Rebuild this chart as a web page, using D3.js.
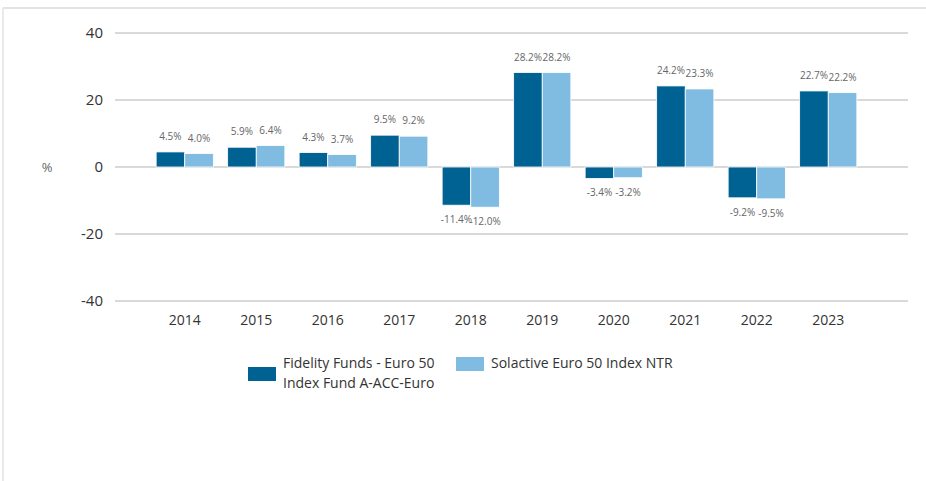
<!DOCTYPE html>
<html>
<head>
<meta charset="utf-8">
<script src="https://cdn.jsdelivr.net/npm/d3@7"></script>
<style>
  body { margin: 0; background: #fff; }
  svg { display: block; font-family: "Open Sans", sans-serif; }
</style>
</head>
<body>
<div id="chart"></div>
<script>
// data
var years = ["2014", "2015", "2016", "2017", "2018", "2019", "2020", "2021", "2022", "2023"];
var fundValues = [4.5, 5.9, 4.3, 9.5, -11.4, 28.2, -3.4, 24.2, -9.2, 22.7];
var indexValues = [4.0, 6.4, 3.7, 9.2, -12.0, 28.2, -3.2, 23.3, -9.5, 22.2];
var seriesNames = ["Fidelity Funds - Euro 50 Index Fund A-ACC-Euro", "Solactive Euro 50 Index NTR"];
var yTicks = [-40, -20, 0, 20, 40];

var colors = ["#006193", "#80bce2"];

var width = 926, height = 481;

var svg = d3.select("#chart")
  .append("svg")
  .attr("width", width)
  .attr("height", height);

// frame lines (top and left)
svg.append("line")
  .attr("x1", 3).attr("x2", width).attr("y1", 8).attr("y2", 8)
  .attr("stroke", "#e3e3e3").attr("stroke-width", 2);
svg.append("line")
  .attr("x1", 3).attr("x2", 3).attr("y1", 8).attr("y2", height)
  .attr("stroke", "#e3e3e3").attr("stroke-width", 1.5);

var x = d3.scaleBand()
  .domain(years)
  .range([149, 864])
  .paddingInner(0.2)
  .paddingOuter(0.1);

var y = d3.scaleLinear()
  .domain([-40, 40])
  .range([301, 33]);

var xSub = d3.scaleBand()
  .domain([0, 1])
  .range([0, x.bandwidth()]);

// grid lines
svg.append("g")
  .selectAll("line")
  .data(yTicks)
  .enter()
  .append("line")
  .attr("x1", 115).attr("x2", 908)
  .attr("y1", function(d) { return y(d); })
  .attr("y2", function(d) { return y(d); })
  .attr("stroke", "#d9d9d9")
  .attr("stroke-width", 2);

// y axis labels (plain hyphen for negatives, as in the original)
svg.append("g")
  .attr("transform", "translate(103,0)")
  .call(d3.axisLeft(y).tickValues(yTicks).tickSize(0).tickPadding(0)
    .tickFormat(function(d) { return String(d); }))
  .call(function(g) { g.select(".domain").remove(); })
  .selectAll("text")
  .attr("font-size", 15)
  .attr("font-family", "Open Sans, sans-serif")
  .attr("fill", "#333");

svg.append("text")
  .attr("x", 47).attr("y", y(0))
  .attr("dy", "0.35em")
  .attr("text-anchor", "middle")
  .attr("font-size", 13)
  .attr("fill", "#666")
  .text("%");

// x axis labels
svg.append("g")
  .attr("transform", "translate(0,315)")
  .call(d3.axisBottom(x).tickSize(0).tickPadding(0))
  .call(function(g) { g.select(".domain").remove(); })
  .selectAll("text")
  .attr("font-size", 14)
  .attr("font-family", "Open Sans, sans-serif")
  .attr("fill", "#333");

// bars
var rows = years.map(function(yr, i) {
  return { year: yr, values: [fundValues[i], indexValues[i]] };
});

var groups = svg.append("g")
  .selectAll("g")
  .data(rows)
  .enter()
  .append("g")
  .attr("transform", function(d) { return "translate(" + x(d.year) + ",0)"; });

groups.selectAll("rect")
  .data(function(d) { return d.values.map(function(v, k) { return { k: k, v: v }; }); })
  .enter()
  .append("rect")
  .attr("x", function(d) { return xSub(d.k); })
  .attr("width", xSub.bandwidth())
  .attr("y", function(d) { return y(Math.max(0, d.v)); })
  .attr("height", function(d) { return Math.abs(y(d.v) - y(0)); })
  .attr("fill", function(d) { return colors[d.k]; })
  .attr("stroke", "#fff")
  .attr("stroke-width", 0.8);

groups.selectAll("text")
  .data(function(d) { return d.values.map(function(v, k) { return { k: k, v: v }; }); })
  .enter()
  .append("text")
  .attr("x", function(d) { return xSub(d.k) + xSub.bandwidth() / 2; })
  .attr("y", function(d) { return d.v >= 0 ? y(d.v) - 12 : y(d.v) + 18; })
  .attr("text-anchor", "middle")
  .attr("font-size", 10)
  .attr("fill", "#666")
  .text(function(d) { return d.v.toFixed(1) + "%"; });

// legend
var legend = svg.append("g").attr("font-size", 14).attr("fill", "#333");

legend.append("rect")
  .attr("x", 248).attr("y", 367).attr("width", 28).attr("height", 14)
  .attr("fill", colors[0]);
legend.append("text")
  .attr("x", 283).attr("y", 368)
  .text("Fidelity Funds - Euro 50");
legend.append("text")
  .attr("x", 283).attr("y", 388)
  .text("Index Fund A-ACC-Euro");

legend.append("rect")
  .attr("x", 456).attr("y", 357).attr("width", 28).attr("height", 14)
  .attr("fill", colors[1]);
legend.append("text")
  .attr("x", 491).attr("y", 368)
  .text(seriesNames[1]);
</script>
</body>
</html>
